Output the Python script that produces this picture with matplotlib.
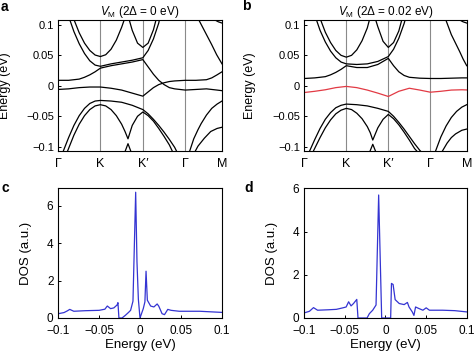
import matplotlib
matplotlib.use('Agg')
import matplotlib.pyplot as plt

plt.rcParams['font.family'] = ['Liberation Sans', 'DejaVu Sans']
plt.rcParams['mathtext.fontset'] = 'custom'
plt.rcParams['mathtext.rm'] = 'Liberation Sans'
plt.rcParams['mathtext.it'] = 'Liberation Sans:italic'
plt.rcParams['font.size'] = 8

# path through the moire Brillouin zone
kpath_pos = [0, 1, 2, 3, 3.866]
kpath_labels = ['Γ', 'K', 'K\u2032', 'Γ', 'M']
e_ticks = [0.1, 0.05, 0, -0.05, -0.1]
e_ticklabels = ['0.1', '0.05', '0', '\u22120.05', '\u22120.1']

# ---- panel a: bands, 2Δ = 0 eV  (k, E in eV) ----
a_c1 = ([0.38, 0.5, 0.625, 0.75, 0.875, 1.0, 1.125, 1.25, 1.375, 1.5, 1.56],
        [0.108, 0.087, 0.07, 0.058, 0.0505, 0.048, 0.051, 0.06, 0.075, 0.096, 0.108])
a_c2 = ([0.28, 0.375, 0.5, 0.625, 0.75, 0.875, 1.0, 1.25, 1.5, 1.75, 2.0, 2.125, 2.25, 2.375, 2.39],
        [0.108, 0.089, 0.069, 0.053, 0.041, 0.034, 0.032, 0.036, 0.039, 0.042, 0.046, 0.058, 0.077, 0.103, 0.108])
a_c3 = ([1.68, 1.75, 1.875, 2.0, 2.125, 2.25, 2.31],
        [0.108, 0.091, 0.07, 0.063, 0.07, 0.092, 0.108])
a_c4 = ([3.32, 3.5, 3.62, 3.74, 3.866],
        [0.108, 0.084, 0.068, 0.051, 0.036])
a_c5 = ([3.7, 3.78, 3.866],
        [0.108, 0.105, 0.103])
a_f1 = ([0, 0.25, 0.5, 0.625, 0.75, 0.875, 1.0, 1.25, 1.5, 1.75, 2.0, 2.125, 2.25, 2.375,
         2.5, 2.625, 2.75, 3.0, 3.25, 3.5, 3.75, 3.866],
        [0.009, 0.009, 0.011, 0.014, 0.018, 0.023, 0.029, 0.033, 0.036, 0.039, 0.043, 0.031, 0.019, 0.009,
         0.002, -0.003, -0.005, -0.007, -0.006, -0.005, -0.007, -0.008])
a_f2 = ([0, 0.25, 0.5, 0.75, 1.0, 1.25, 1.5, 1.75, 2.0, 2.125, 2.25, 2.375, 2.5, 2.625, 2.75,
         3.0, 3.25, 3.5, 3.625, 3.75, 3.866],
        [-0.006, -0.005, -0.003, -0.002, -0.002, -0.004, -0.007, -0.012, -0.017, -0.01, -0.003, 0.002, 0.005,
         0.007, 0.008, 0.009, 0.009, 0.01, 0.013, 0.018, 0.023])
a_v1 = ([0.12, 0.25, 0.375, 0.5, 0.625, 0.75, 0.875, 1.0, 1.25, 1.5, 1.75, 2.0, 2.125, 2.25,
         2.375, 2.5, 2.625, 2.75, 2.8],
        [-0.108, -0.085, -0.065, -0.049, -0.037, -0.029, -0.025, -0.024, -0.025, -0.027, -0.032, -0.039,
         -0.046, -0.055, -0.065, -0.076, -0.088, -0.101, -0.108])
a_v2 = ([0.22, 0.375, 0.5, 0.625, 0.75, 0.875, 1.0, 1.125, 1.25, 1.375, 1.5, 1.58, 1.65, 1.75,
         1.875, 2.0, 2.125, 2.25, 2.375, 2.5, 2.625, 2.7],
        [-0.108, -0.081, -0.063, -0.049, -0.039, -0.033, -0.031, -0.033, -0.039, -0.049, -0.063, -0.075,
         -0.087, -0.065, -0.05, -0.043, -0.049, -0.058, -0.07, -0.083, -0.097, -0.108])
a_v3 = ([1.58, 1.65, 1.72], [-0.108, -0.095, -0.108])
a_v4 = ([3.1, 3.2, 3.3, 3.375, 3.5, 3.625, 3.75, 3.866],
        [-0.108, -0.087, -0.072, -0.062, -0.048, -0.037, -0.03, -0.025])
a_v5 = ([3.23, 3.3, 3.45, 3.6, 3.75, 3.866],
        [-0.108, -0.099, -0.086, -0.075, -0.07, -0.068])

# ---- panel b: bands, 2Δ = 0.02 eV ----
b_c1 = ([0.39, 0.5, 0.625, 0.75, 0.875, 1.0, 1.125, 1.25, 1.375, 1.5, 1.55],
        [0.108, 0.088, 0.071, 0.058, 0.05, 0.047, 0.05, 0.059, 0.074, 0.095, 0.108])
b_c2 = ([0.29, 0.375, 0.5, 0.625, 0.75, 0.875, 1.0, 1.25, 1.5, 1.75, 2.0, 2.125, 2.25, 2.375, 2.4],
        [0.108, 0.091, 0.072, 0.057, 0.046, 0.039, 0.036, 0.035, 0.036, 0.04, 0.048, 0.06, 0.078, 0.102, 0.108])
b_c3 = ([1.7, 1.75, 1.875, 2.0, 2.125, 2.25, 2.32],
        [0.108, 0.097, 0.073, 0.063, 0.071, 0.09, 0.108])
b_c4 = ([3.37, 3.5, 3.6, 3.7, 3.78, 3.866],
        [0.108, 0.084, 0.07, 0.056, 0.044, 0.033])
b_c5 = ([3.7, 3.78, 3.866],
        [0.108, 0.105, 0.103])
b_f1 = ([0, 0.25, 0.5, 0.625, 0.75, 0.875, 1.0, 1.25, 1.5, 1.75, 2.0, 2.125, 2.25, 2.375, 2.5,
         2.75, 3.0, 3.25, 3.5, 3.75, 3.866],
        [0.012, 0.013, 0.015, 0.018, 0.022, 0.027, 0.033, 0.03, 0.03, 0.035, 0.045, 0.033, 0.023, 0.017,
         0.014, 0.0125, 0.012, 0.012, 0.0125, 0.013, 0.013])
b_red = ([0, 0.25, 0.5, 0.75, 1.0, 1.25, 1.5, 1.75, 2.0, 2.25, 2.5, 2.75, 3.0, 3.25, 3.5, 3.75, 3.866],
         [-0.011, -0.009, -0.0065, -0.003, -0.001, -0.003, -0.007, -0.012, -0.0175, -0.009, -0.004,
          -0.007, -0.0105, -0.009, -0.007, -0.0065, -0.0068])
b_v1 = ([0.12, 0.25, 0.375, 0.5, 0.625, 0.75, 0.875, 1.0, 1.25, 1.5, 1.75, 2.0, 2.125, 2.25,
         2.375, 2.5, 2.625, 2.75, 2.78],
        [-0.108, -0.088, -0.07, -0.055, -0.044, -0.036, -0.032, -0.03, -0.031, -0.033, -0.037, -0.042,
         -0.05, -0.06, -0.071, -0.083, -0.095, -0.106, -0.108])
b_v2 = ([0.21, 0.375, 0.5, 0.625, 0.75, 0.875, 1.0, 1.125, 1.25, 1.375, 1.5, 1.57, 1.63, 1.75,
         1.875, 2.0, 2.125, 2.25, 2.375, 2.5, 2.625, 2.69],
        [-0.108, -0.085, -0.069, -0.056, -0.046, -0.04, -0.037, -0.039, -0.045, -0.054, -0.067, -0.077,
         -0.089, -0.069, -0.055, -0.047, -0.054, -0.064, -0.076, -0.089, -0.103, -0.108])
b_v3 = ([1.56, 1.63, 1.7], [-0.108, -0.096, -0.108])
b_v4 = ([3.12, 3.25, 3.375, 3.5, 3.625, 3.75, 3.866],
        [-0.108, -0.084, -0.066, -0.052, -0.042, -0.035, -0.031])
b_v5 = ([3.28, 3.4, 3.5, 3.6, 3.75, 3.866],
        [-0.108, -0.094, -0.085, -0.079, -0.073, -0.071])

# ---- panel c / d: density of states ----
c_energy = [-0.1, -0.093, -0.089, -0.086, -0.081, -0.067, -0.05, -0.043, -0.04, -0.036, -0.032,
            -0.028, -0.027, -0.0258, -0.022, -0.018, -0.014, -0.0115, -0.0086, -0.0053, -0.0037,
            -0.002, 0.0, 0.004, 0.006, 0.0074, 0.009, 0.013, 0.017, 0.021, 0.023, 0.027, 0.03,
            0.034, 0.038, 0.048, 0.073, 0.1]
c_dos = [0.23, 0.29, 0.38, 0.46, 0.36, 0.39, 0.41, 0.47, 0.64, 0.5, 0.54,
         0.7, 0.82, 0.0, 0.0, 0.14, 0.3, 0.41, 0.9, 6.72, 3.0,
         1.0, 0.0, 0.5, 0.86, 2.5, 0.95, 0.64, 0.59, 0.75, 0.63, 0.23, 0.18,
         0.46, 0.41, 0.36, 0.36, 0.3]

d_energy = [-0.1, -0.093, -0.088, -0.083, -0.07, -0.06, -0.052, -0.048, -0.045, -0.042, -0.039,
            -0.035, -0.0335, -0.0224, -0.0196, -0.0155, -0.0114, -0.0082, -0.0045, 0.0065, 0.0075,
            0.0095, 0.012, 0.017, 0.023, 0.027, 0.029, 0.033, 0.035, 0.037, 0.041, 0.046, 0.05,
            0.054, 0.07, 0.085, 0.1]
d_dos = [0.23, 0.31, 0.48, 0.36, 0.38, 0.4, 0.47, 0.51, 0.75, 0.56, 0.67,
         0.86, 0.0, 0.0, 0.2, 0.36, 0.6, 5.69, 0.0, 0.0, 1.6,
         1.55, 0.85, 0.67, 0.62, 0.72, 0.51, 0.28, 0.12, 0.51, 0.44, 0.36, 0.47,
         0.36, 0.36, 0.34, 0.28]

bands_a = [(a_c1, 'black'), (a_c2, 'black'), (a_c3, 'black'), (a_c4, 'black'), (a_c5, 'black'),
           (a_f1, 'black'), (a_f2, 'black'), (a_v1, 'black'), (a_v2, 'black'), (a_v3, 'black'),
           (a_v4, 'black'), (a_v5, 'black')]
bands_b = [(b_c1, 'black'), (b_c2, 'black'), (b_c3, 'black'), (b_c4, 'black'), (b_c5, 'black'),
           (b_f1, 'black'), (b_red, '#e23a44'), (b_v1, 'black'), (b_v2, 'black'), (b_v3, 'black'),
           (b_v4, 'black'), (b_v5, 'black')]

fig = plt.figure(figsize=(4.74, 3.55), dpi=100)
W, H = 474.0, 355.0


def rect(x0, y0, x1, y1):
    return [x0 / W, 1 - y1 / H, (x1 - x0) / W, (y1 - y0) / H]


def band_panel(r, bands, title, ylab_x):
    ax = fig.add_axes(r)
    for x in kpath_pos[1:-1]:
        ax.axvline(x, color='#8a8a8a', lw=0.8, zorder=1)
    for (k, e), col in bands:
        ax.plot(k, e, color=col, lw=0.9, zorder=2)
    ax.set_xlim(0, kpath_pos[-1])
    ax.set_ylim(-0.107, 0.108)
    ax.set_xticks(kpath_pos)
    ax.set_xticklabels(kpath_labels)
    ax.set_yticks(e_ticks)
    ax.set_yticklabels(e_ticklabels)
    ax.tick_params(axis='x', length=0, pad=5, labelsize=9)
    ax.tick_params(axis='y', direction='in', length=2, width=0.7, pad=3, labelsize=8)
    ax.set_ylabel('Energy (eV)', fontsize=9)
    ax.yaxis.set_label_coords(ylab_x, 0.5)
    ax.set_title(title, fontsize=8.5, pad=3)
    for s in ax.spines.values():
        s.set_linewidth(0.8)
    return ax


def dos_panel(r, energy, dos, ytop, ylab_x):
    ax = fig.add_axes(r)
    ax.plot(energy, dos, color='#3434d2', lw=0.9)
    ax.set_xlim(-0.1, 0.1)
    ax.set_ylim(0, ytop)
    ax.set_xticks([-0.1, -0.05, 0, 0.05, 0.1])
    ax.set_xticklabels(['\u22120.1', '\u22120.05', '0', '0.05', '0.1'])
    ax.set_yticks([0, 2, 4, 6])
    ax.tick_params(direction='in', length=2, width=0.7, labelsize=8.5)
    ax.tick_params(axis='x', pad=4.8)
    ax.tick_params(axis='y', pad=3.5)
    ax.set_ylabel('DOS (a.u.)', fontsize=9.5)
    ax.yaxis.set_label_coords(ylab_x, 0.5)
    ax.set_xlabel('Energy (eV)', fontsize=9.5)
    ax.xaxis.set_label_coords(0.5, -0.165)
    for s in ax.spines.values():
        s.set_linewidth(0.8)
    return ax


band_panel(rect(58, 20, 222, 151), bands_a, r'$V_{\mathrm{M}}$ (2Δ = 0 eV)', -0.285)
band_panel(rect(304.3, 20, 466.7, 151), bands_b, r'$V_{\mathrm{M}}$ (2Δ = 0.02 eV)', -0.30)
dos_panel(rect(58.3, 188.3, 221.7, 318), c_energy, c_dos, 6.93, -0.16)
dos_panel(rect(303.7, 188.3, 467, 318), d_energy, d_dos, 6.0, -0.16)

for x, y, s in [(1, 7, 'a'), (242, 6, 'b'), (1, 188, 'c'), (244, 188, 'd')]:
    fig.text(x / W, 1 - y / H, s, fontsize=10, fontweight='bold', ha='left', va='center')

fig.savefig('out.png', dpi=100)
